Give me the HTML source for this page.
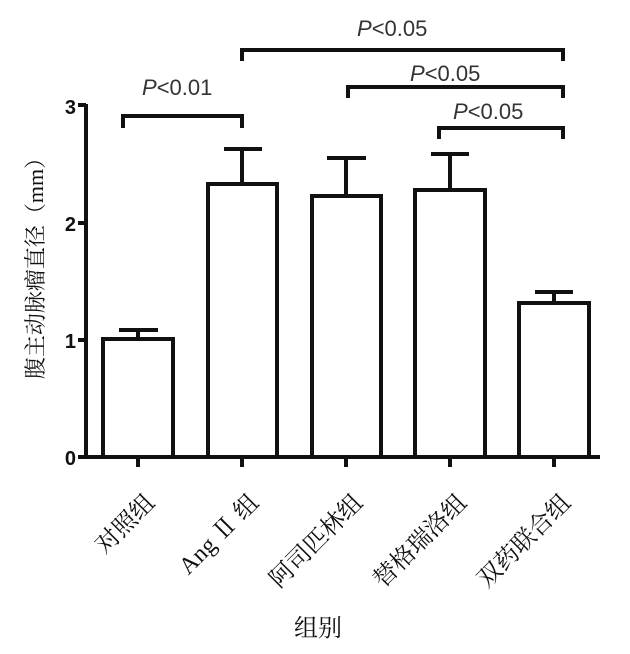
<!DOCTYPE html><html><head><meta charset="utf-8"><style>body{margin:0;background:#fff}</style></head><body>
<svg width="630" height="649" xmlns="http://www.w3.org/2000/svg" font-family="Liberation Sans, sans-serif">
<g stroke="#111" stroke-width="4" fill="none">
<path d="M86 104 V459 M78 105 H86 M78 223 H86 M78 340 H86 M78 457 H600"/>
<path d="M138 457 V467 M242 457 V467 M346 457 V467 M450 457 V467 M554 457 V467"/>
<rect x="103" y="339" width="70" height="118" fill="#fff"/>
<rect x="208" y="184" width="69" height="273" fill="#fff"/>
<rect x="312" y="196" width="69" height="261" fill="#fff"/>
<rect x="415" y="190" width="70" height="267" fill="#fff"/>
<rect x="519" y="303" width="70" height="154" fill="#fff"/>
<path d="M138 339 V330 M119 330 H158"/>
<path d="M242 184 V149 M224 149 H262"/>
<path d="M346 196 V158 M327 158 H366"/>
<path d="M450 190 V154 M431 154 H469"/>
<path d="M554 303 V292 M535 292 H573"/>
<path d="M123 128 V116 H242 V128"/>
<path d="M242 61 V50 H563 V61"/>
<path d="M348 98 V87 H563 V98"/>
<path d="M439 139 V128 H563 V139"/>
</g>
<g font-size="22" fill="#333">
<text x="142" y="95"><tspan font-style="italic">P</tspan>&lt;0.01</text>
<text x="357" y="36"><tspan font-style="italic">P</tspan>&lt;0.05</text>
<text x="410" y="81"><tspan font-style="italic">P</tspan>&lt;0.05</text>
<text x="453" y="119"><tspan font-style="italic">P</tspan>&lt;0.05</text>
</g>
<g font-size="20" font-weight="bold" fill="#111" text-anchor="end">
<text x="76" y="114">3</text><text x="76" y="231">2</text><text x="76" y="348">1</text><text x="76" y="465">0</text>
</g>
<g font-size="24" fill="#111" text-anchor="end" font-family="Liberation Serif, Noto Serif CJK SC, serif">
<text transform="translate(156,504) rotate(-45)">对照组</text>
<text transform="translate(260,504) rotate(-45)">Ang Ⅱ 组</text>
<text transform="translate(364,504) rotate(-45)">阿司匹林组</text>
<text transform="translate(468,504) rotate(-45)">替格瑞洛组</text>
<text transform="translate(572,504) rotate(-45)">双药联合组</text>
<text transform="translate(43,263) rotate(-90)" text-anchor="middle" font-size="22">腹主动脉瘤直径（mm）</text>
<text x="318" y="636" text-anchor="middle">组别</text>
</g>
</svg></body></html>
